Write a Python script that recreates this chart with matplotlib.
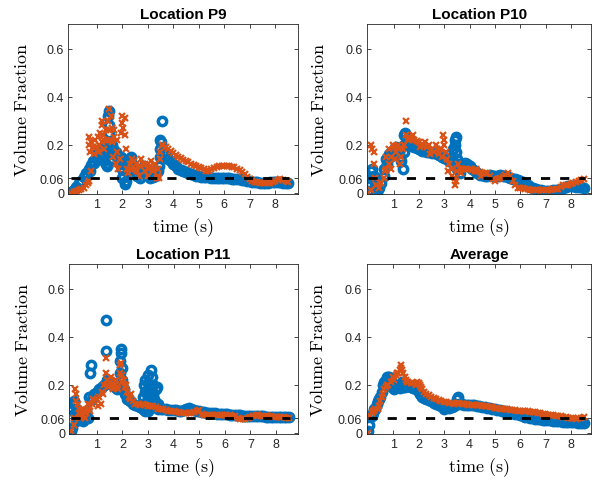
'''Volume fraction vs time at locations P9, P10, P11 and the average.'''
import numpy as np
import matplotlib
matplotlib.use('Agg')
import matplotlib.pyplot as plt

plt.rcParams['font.family'] = ['Liberation Sans', 'DejaVu Sans']
plt.rcParams['mathtext.fontset'] = 'cm'

BLUE = '#0072BD'
ORANGE = '#D95319'

# common time grid (s), 0.0 ... 8.5
t = np.round(np.arange(0, 8.55, 0.1), 1)
threshold = 0.06
threshold_span = [0.0, 8.55]

titles = ['Location P9', 'Location P10', 'Location P11', 'Average']
y_ticks = [0, 0.06, 0.2, 0.4, 0.6]
y_ticklabels = ['0', '0.06', '0.2', '0.4', '0.6']
x_ticks = [1, 2, 3, 4, 5, 6, 7, 8]

# ---- Location P9 ----
p9_blue = [0.003, 0.012, 0.022, 0.038, 0.05, 0.065, 0.08, 0.1, 0.115, 0.125,
           0.145, 0.16, 0.17, 0.13, 0.11, 0.34, 0.2, 0.16, 0.15, 0.12,
           0.06, 0.035, 0.13, 0.14, 0.12, 0.1, 0.07, 0.06, 0.1, 0.085,
           0.075, 0.06, 0.065, 0.07, 0.09, 0.22, 0.17, 0.155, 0.14, 0.13,
           0.12, 0.11, 0.1, 0.095, 0.09, 0.085, 0.08, 0.076, 0.073, 0.07,
           0.068, 0.066, 0.065, 0.064, 0.063, 0.062, 0.062, 0.061, 0.06, 0.06,
           0.06, 0.059, 0.059, 0.058, 0.057, 0.056, 0.055, 0.053, 0.051, 0.049,
           0.047, 0.045, 0.043, 0.042, 0.041, 0.04, 0.04, 0.041, 0.043, 0.045,
           0.046, 0.045, 0.043, 0.041, 0.04, 0.039]
p9_blue_xt = [1.45, 1.48, 1.5, 1.5, 1.52, 1.55, 1.05, 1.15, 1.25, 1.35, 1.95, 2.0,
              2.05, 2.15, 2.25, 2.35, 2.85, 3.45, 3.5, 3.5, 3.52, 3.55, 0.75, 0.85,
              1.65, 1.75, 1.85]
p9_blue_xy = [0.32, 0.28, 0.25, 0.21, 0.17, 0.14, 0.17, 0.18, 0.16, 0.12, 0.15, 0.1,
              0.07, 0.05, 0.09, 0.15, 0.11, 0.11, 0.15, 0.18, 0.21, 0.30, 0.09, 0.13,
              0.18, 0.17, 0.14]
p9_orange = [0.0, 0.002, 0.006, 0.01, 0.015, 0.02, 0.03, 0.05, 0.09, 0.16,
             0.19, 0.2, 0.21, 0.22, 0.22, 0.35, 0.21, 0.23, 0.17, 0.14,
             0.29, 0.31, 0.1, 0.12, 0.14, 0.1, 0.09, 0.11, 0.12, 0.09,
             0.1, 0.11, 0.09, 0.12, 0.07, 0.14, 0.2, 0.19, 0.18, 0.172,
             0.165, 0.158, 0.15, 0.143, 0.137, 0.131, 0.126, 0.121, 0.116, 0.111,
             0.106, 0.101, 0.097, 0.092, 0.09, 0.098, 0.103, 0.107, 0.109, 0.11,
             0.111, 0.111, 0.11, 0.108, 0.105, 0.1, 0.094, 0.086, 0.077, 0.066,
             0.056, 0.05, 0.045, 0.042, 0.04, 0.039, 0.038, 0.038, 0.04, 0.045,
             0.05, 0.054, 0.055, 0.052, 0.048, 0.045]
p9_orange_xt = [0.65, 0.7, 0.72, 0.75, 0.78, 0.85, 0.95, 1.05, 1.1, 1.15, 1.2, 1.22,
                1.25, 1.3, 1.35, 1.45, 1.48, 1.52, 1.55, 1.6, 1.65, 1.7, 1.75, 1.8,
                1.85, 1.95, 2.0, 2.05, 2.1, 2.15, 2.25, 2.35, 2.45, 2.55, 2.65, 2.75,
                2.9, 3.0, 3.15, 3.25, 3.35, 3.4, 3.45, 3.5, 3.55]
p9_orange_xy = [0.04, 0.2, 0.23, 0.17, 0.21, 0.19, 0.22, 0.23, 0.17, 0.25, 0.28, 0.3,
                0.24, 0.18, 0.26, 0.3, 0.26, 0.22, 0.32, 0.27, 0.15, 0.26, 0.12, 0.22,
                0.1, 0.25, 0.32, 0.27, 0.24, 0.18, 0.08, 0.1, 0.13, 0.12, 0.07, 0.14,
                0.12, 0.07, 0.13, 0.1, 0.06, 0.1, 0.06, 0.17, 0.2]

# ---- Location P10 ----
p10_blue = [0.005, 0.09, 0.07, 0.01, 0.02, 0.04, 0.1, 0.14, 0.16, 0.17,
            0.18, 0.19, 0.17, 0.13, 0.2, 0.21, 0.2, 0.195, 0.19, 0.185,
            0.18, 0.175, 0.175, 0.17, 0.17, 0.165, 0.17, 0.16, 0.155, 0.15,
            0.145, 0.14, 0.13, 0.15, 0.22, 0.1, 0.08, 0.11, 0.125, 0.12,
            0.11, 0.1, 0.09, 0.08, 0.075, 0.075, 0.07, 0.07, 0.072, 0.07,
            0.068, 0.07, 0.072, 0.07, 0.068, 0.066, 0.062, 0.058, 0.055, 0.052,
            0.048, 0.042, 0.035, 0.03, 0.025, 0.02, 0.015, 0.012, 0.01, 0.008,
            0.008, 0.008, 0.008, 0.009, 0.01, 0.012, 0.015, 0.02, 0.025, 0.028,
            0.028, 0.026, 0.025, 0.024, 0.022, 0.02]
p10_blue_xt = [0.05, 0.1, 0.15, 0.25, 0.35, 0.6, 0.75, 0.85, 1.25, 1.35, 1.4, 1.45,
               1.4, 3.35, 3.4, 3.45, 3.45, 3.5, 3.55]
p10_blue_xy = [0.03, 0.06, 0.1, 0.04, 0.0, 0.07, 0.12, 0.15, 0.15, 0.1, 0.24, 0.25,
               0.17, 0.18, 0.2, 0.23, 0.17, 0.14, 0.12]
p10_orange = [0.0, 0.01, 0.17, 0.03, 0.02, 0.04, 0.06, 0.1, 0.12, 0.15,
              0.19, 0.17, 0.18, 0.15, 0.2, 0.24, 0.23, 0.225, 0.22, 0.215,
              0.21, 0.2, 0.2, 0.19, 0.2, 0.18, 0.17, 0.18, 0.16, 0.15,
              0.2, 0.14, 0.12, 0.1, 0.06, 0.09, 0.1, 0.1, 0.1, 0.1,
              0.1, 0.095, 0.092, 0.09, 0.085, 0.082, 0.08, 0.08, 0.07, 0.055,
              0.05, 0.055, 0.06, 0.065, 0.075, 0.08, 0.07, 0.05, 0.03, 0.02,
              0.02, 0.018, 0.015, 0.013, 0.012, 0.011, 0.01, 0.01, 0.01, 0.011,
              0.011, 0.012, 0.012, 0.013, 0.014, 0.015, 0.025, 0.03, 0.03, 0.032,
              0.035, 0.04, 0.045, 0.05, 0.053, 0.055]
p10_orange_xt = [0.1, 0.15, 0.2, 0.25, 0.65, 0.7, 0.8, 0.9, 0.95, 1.05, 1.15, 1.25,
                 1.35, 1.47, 1.55, 1.75, 2.05, 2.25, 2.45, 2.65, 2.85, 2.95, 3.0, 3.05,
                 3.15, 3.3, 3.4, 3.45, 3.55, 3.65, 4.25, 4.45]
p10_orange_xy = [0.2, 0.18, 0.12, 0.06, 0.09, 0.15, 0.18, 0.1, 0.2, 0.14, 0.2, 0.12,
                 0.18, 0.3, 0.22, 0.24, 0.19, 0.21, 0.16, 0.2, 0.18, 0.24, 0.22, 0.17,
                 0.09, 0.07, 0.03, 0.05, 0.12, 0.08, 0.1, 0.07]

# ---- Location P11 ----
p11_blue = [0.005, 0.12, 0.05, 0.07, 0.08, 0.06, 0.09, 0.15, 0.14, 0.16,
            0.17, 0.18, 0.19, 0.2, 0.22, 0.21, 0.2, 0.19, 0.18, 0.3,
            0.2, 0.16, 0.14, 0.13, 0.12, 0.115, 0.11, 0.105, 0.15, 0.17,
            0.18, 0.2, 0.16, 0.11, 0.1, 0.1, 0.1, 0.098, 0.095, 0.095,
            0.095, 0.093, 0.09, 0.09, 0.095, 0.1, 0.102, 0.1, 0.095, 0.09,
            0.088, 0.086, 0.085, 0.083, 0.082, 0.08, 0.08, 0.079, 0.078, 0.077,
            0.076, 0.076, 0.075, 0.075, 0.074, 0.073, 0.072, 0.071, 0.07, 0.07,
            0.07, 0.069, 0.069, 0.068, 0.068, 0.068, 0.067, 0.067, 0.066, 0.066,
            0.065, 0.065, 0.065, 0.064, 0.064, 0.063]
p11_blue_xt = [0.05, 0.05, 0.1, 0.15, 0.25, 0.45, 0.65, 0.75, 0.78, 1.36, 1.36, 1.85,
               1.9, 1.93, 1.95, 1.97, 2.0, 2.05, 2.8, 2.85, 2.9, 2.95, 3.0, 3.05,
               3.1, 3.12, 3.15, 3.2, 3.25, 3.3, 3.35, 3.4, 3.0, 2.9]
p11_blue_xy = [0.02, 0.1, 0.13, 0.08, 0.06, 0.05, 0.06, 0.25, 0.28, 0.47, 0.34, 0.2,
               0.25, 0.33, 0.35, 0.22, 0.27, 0.18, 0.1, 0.2, 0.22, 0.13, 0.24, 0.19,
               0.26, 0.15, 0.23, 0.2, 0.14, 0.18, 0.19, 0.12, 0.09, 0.09]
p11_orange = [0.005, 0.03, 0.16, 0.08, 0.07, 0.09, 0.08, 0.1, 0.12, 0.13,
              0.14, 0.15, 0.17, 0.2, 0.22, 0.21, 0.2, 0.2, 0.19, 0.25,
              0.24, 0.19, 0.17, 0.14, 0.13, 0.12, 0.12, 0.115, 0.12, 0.115,
              0.11, 0.11, 0.11, 0.105, 0.1, 0.1, 0.098, 0.095, 0.092, 0.09,
              0.088, 0.086, 0.084, 0.082, 0.08, 0.08, 0.08, 0.082, 0.085, 0.09,
              0.095, 0.078, 0.075, 0.074, 0.073, 0.074, 0.075, 0.075, 0.074, 0.073,
              0.072, 0.072, 0.072, 0.071, 0.068, 0.06, 0.055, 0.056, 0.058, 0.06,
              0.065, 0.07, 0.072, 0.072, 0.071, 0.07, 0.069, 0.068, 0.068, 0.067,
              0.066, 0.065, 0.064, 0.063, 0.062, 0.062]
p11_orange_xt = [0.1, 0.15, 0.2, 0.25, 0.3, 0.35, 0.45, 0.55, 0.65, 0.75, 0.85, 1.05,
                 1.15, 1.25, 1.35, 1.38, 1.45, 1.55, 1.65, 1.75, 1.85, 1.92, 1.95, 2.0,
                 2.05, 2.15, 2.25, 2.35]
p11_orange_xy = [0.06, 0.18, 0.13, 0.12, 0.1, 0.06, 0.1, 0.06, 0.12, 0.09, 0.14, 0.11,
                 0.12, 0.16, 0.25, 0.31, 0.19, 0.23, 0.18, 0.22, 0.18, 0.28, 0.29, 0.21,
                 0.22, 0.2, 0.15, 0.16]

# ---- Average ----
avg_blue = [0.005, 0.07, 0.08, 0.1, 0.13, 0.15, 0.2, 0.22, 0.23, 0.22,
            0.2, 0.19, 0.19, 0.2, 0.19, 0.2, 0.195, 0.19, 0.185, 0.18,
            0.17, 0.155, 0.145, 0.14, 0.135, 0.13, 0.125, 0.12, 0.115, 0.11,
            0.108, 0.106, 0.104, 0.105, 0.11, 0.14, 0.12, 0.118, 0.117, 0.116,
            0.115, 0.114, 0.113, 0.112, 0.11, 0.108, 0.106, 0.104, 0.102, 0.1,
            0.098, 0.095, 0.093, 0.091, 0.089, 0.087, 0.085, 0.082, 0.079, 0.076,
            0.073, 0.07, 0.067, 0.064, 0.062, 0.06, 0.058, 0.057, 0.055, 0.054,
            0.053, 0.052, 0.051, 0.05, 0.049, 0.048, 0.047, 0.046, 0.046, 0.045,
            0.045, 0.044, 0.043, 0.042, 0.042, 0.041]
avg_blue_xt = [0.05, 0.15, 0.25, 0.35, 0.45, 0.55, 0.65, 0.75, 0.85, 0.95, 1.05, 1.25,
               1.35, 1.45, 2.05, 2.15, 3.0, 3.55, 3.45]
avg_blue_xy = [0.03, 0.07, 0.1, 0.12, 0.14, 0.17, 0.21, 0.23, 0.23, 0.19, 0.18, 0.185,
               0.21, 0.19, 0.16, 0.15, 0.1, 0.15, 0.12]
avg_orange = [0.0, 0.07, 0.09, 0.1, 0.1, 0.13, 0.16, 0.19, 0.2, 0.21,
              0.23, 0.24, 0.25, 0.27, 0.25, 0.22, 0.21, 0.205, 0.205, 0.2,
              0.205, 0.19, 0.17, 0.16, 0.155, 0.15, 0.145, 0.14, 0.135, 0.13,
              0.128, 0.126, 0.124, 0.123, 0.12, 0.125, 0.122, 0.12, 0.119, 0.118,
              0.117, 0.116, 0.115, 0.114, 0.113, 0.112, 0.11, 0.109, 0.107, 0.105,
              0.104, 0.102, 0.1, 0.099, 0.098, 0.097, 0.095, 0.094, 0.093, 0.092,
              0.091, 0.09, 0.089, 0.088, 0.087, 0.086, 0.084, 0.082, 0.08, 0.078,
              0.076, 0.074, 0.073, 0.072, 0.07, 0.069, 0.068, 0.066, 0.064, 0.062,
              0.061, 0.059, 0.058, 0.06, 0.062, 0.063]
avg_orange_xt = [0.15, 0.25, 0.45, 0.55, 0.65, 0.75, 1.05, 1.15, 1.25, 1.32, 1.35, 1.45,
                 1.55, 1.95, 2.05, 2.15]
avg_orange_xy = [0.08, 0.09, 0.11, 0.15, 0.18, 0.2, 0.22, 0.25, 0.26, 0.28, 0.26, 0.23,
                 0.21, 0.21, 0.2, 0.18]

panels = [
    (p9_blue, p9_blue_xt, p9_blue_xy, p9_orange, p9_orange_xt, p9_orange_xy),
    (p10_blue, p10_blue_xt, p10_blue_xy, p10_orange, p10_orange_xt, p10_orange_xy),
    (p11_blue, p11_blue_xt, p11_blue_xy, p11_orange, p11_orange_xt, p11_orange_xy),
    (avg_blue, avg_blue_xt, avg_blue_xy, avg_orange, avg_orange_xt, avg_orange_xy),
]

# axes boxes in figure fractions [left, bottom, width, height]
boxes = [[0.1151, 0.5946, 0.3849, 0.3534],
         [0.6176, 0.5946, 0.3756, 0.3534],
         [0.1165, 0.0956, 0.3840, 0.3534],
         [0.6160, 0.0956, 0.3780, 0.3534]]
xlims = [(-0.1, 8.87), (-0.04, 8.79), (-0.07, 8.85), (-0.05, 8.81)]

fig = plt.figure(figsize=(5.95, 4.81), dpi=100)

for i, (blue, bxt, bxy, orange, oxt, oxy) in enumerate(panels):
    ax = fig.add_axes(boxes[i])
    ax.plot(list(t) + bxt, blue + bxy, linestyle='none', marker='o',
            markersize=6.0, markerfacecolor='none', markeredgecolor=BLUE,
            markeredgewidth=2.5)
    ax.plot(list(t) + oxt, orange + oxy, linestyle='none', marker='x',
            markersize=4.0, color=ORANGE, markeredgewidth=1.6)
    ax.plot(threshold_span, [threshold, threshold], color='black',
            linestyle=(0, (3.3, 3.6)), linewidth=2.0)

    ax.set_xlim(xlims[i])
    ax.set_ylim(-0.006, 0.703)
    ax.set_xticks(x_ticks)
    ax.set_yticks(y_ticks)
    ax.set_yticklabels(y_ticklabels)
    ax.tick_params(direction='in', length=3, width=0.6, labelsize=9,
                   top=True, right=True, colors='#262626', pad=3)
    for sp in ax.spines.values():
        sp.set_linewidth(0.6)
        sp.set_color('#262626')

    ax.set_title(titles[i], fontsize=11, fontweight='bold', pad=4)
    ax.set_xlabel(r'$\mathrm{time\ (s)}$', fontsize=13, labelpad=4)
    ax.set_ylabel(r'$\mathrm{Volume\ Fraction}$', fontsize=13)
    ax.yaxis.set_label_coords(-0.165 if i % 2 == 0 else -0.175, 0.5)

fig.savefig('out.png', dpi=100)
